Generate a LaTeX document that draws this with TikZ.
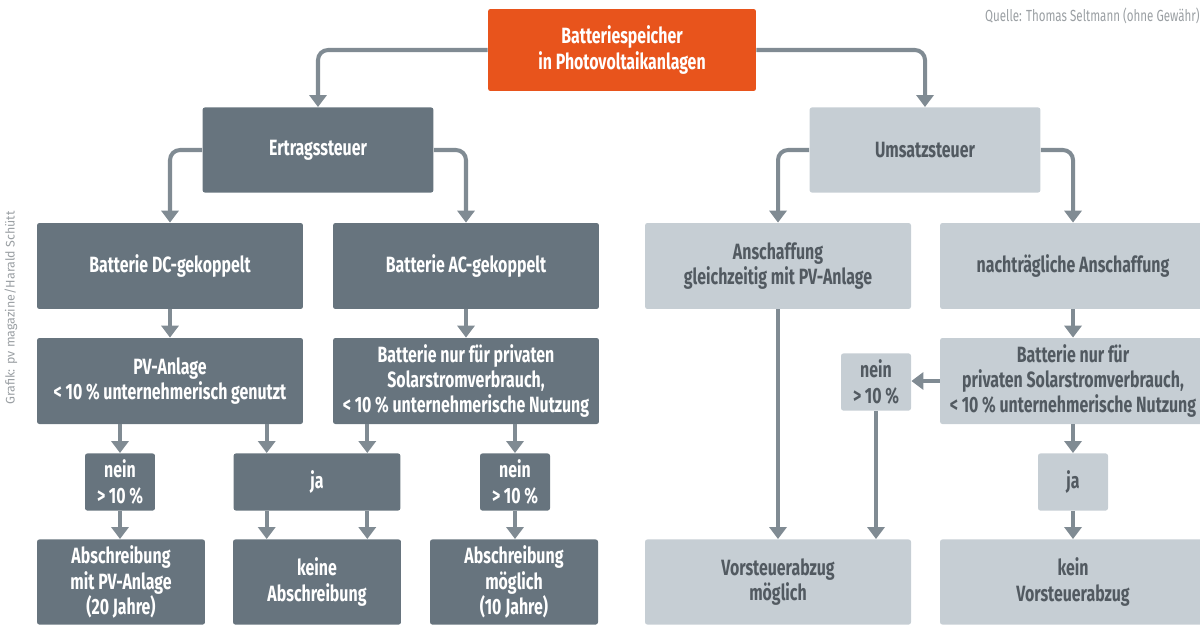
\documentclass[tikz,border=0pt]{standalone}
\usepackage{fontspec}
\setmainfont{Fira Sans}[FakeStretch=0.72]
\newfontfamily\creditfont{Fira Sans}
\usepackage{xcolor}
\usetikzlibrary{positioning, calc, arrows.meta}

\definecolor{topfill}{HTML}{E8541C}
\definecolor{darkfill}{HTML}{67747E}
\definecolor{lightfill}{HTML}{C6CED4}
\definecolor{linegray}{HTML}{808B93}
\definecolor{darktext}{HTML}{525A61}
\definecolor{credit}{HTML}{9A9FA3}

\begin{document}
\begin{tikzpicture}[x=0.0175cm, y=-0.0175cm,
    boxbase/.style={rounded corners=1.2pt, align=center, inner sep=0pt,
      font=\bfseries\fontsize{11}{12.6}\selectfont},
    topbox/.style={boxbase, fill=topfill, text=white},
    darkbox/.style={boxbase, fill=darkfill, text=white},
    lightbox/.style={boxbase, fill=lightfill, text=darktext},
    wide/.style={minimum width=4.655cm, minimum height=1.505cm},
    narrow/.style={minimum width=2.94cm, minimum height=1.49cm},
    small/.style={minimum width=1.225cm, minimum height=1.0cm},
    conn/.style={draw=linegray, line width=2pt,
      -{Triangle[width=0.3cm,length=0.21cm]}, color=linegray}]

    \useasboundingbox (0,0) rectangle (1200,627);

    % Top
    \node[topbox, minimum width=4.69cm, minimum height=1.435cm] (top) at (622,50)
        {Batteriespeicher\\in Photovoltaikanlagen};

    % Tax branches
    \node[darkbox, minimum width=4.04cm, minimum height=1.49cm] (ert) at (318,150) {Ertragssteuer};
    \node[lightbox, minimum width=4.04cm, minimum height=1.49cm] (ums) at (925,150) {Umsatzsteuer};

    % Second row
    \node[darkbox, wide] (dc) at (170,266) {Batterie DC-gekoppelt};
    \node[darkbox, wide] (ac) at (466,266) {Batterie AC-gekoppelt};
    \node[lightbox, wide] (ansch) at (778,266) {Anschaffung\\gleichzeitig mit PV-Anlage};
    \node[lightbox, wide] (nach) at (1073,266) {nachträgliche Anschaffung};

    % Third row
    \node[darkbox, wide] (pv) at (170,381) {PV-Anlage\\<\,10\,\% unternehmerisch genutzt};
    \node[darkbox, wide] (acq) at (466,381)
        {Batterie nur für privaten\\Solarstromverbrauch,\\<\,10\,\% unternehmerische Nutzung};
    \node[lightbox, wide] (batR) at (1073,381)
        {Batterie nur für\\privaten Solarstromverbrauch,\\<\,10\,\% unternehmerische Nutzung};
    \node[lightbox, small] (neinR) at (876,382) {nein\\>\,10\,\%};

    % Answers
    \node[darkbox, small] (nein1) at (120,482) {nein\\>\,10\,\%};
    \node[darkbox, minimum width=2.92cm, minimum height=1.0cm] (ja) at (317,482) {ja};
    \node[darkbox, small] (nein2) at (515,482) {nein\\>\,10\,\%};
    \node[lightbox, small] (jaR) at (1073,482) {ja};

    % Results
    \node[darkbox, narrow] (absch1) at (121,582) {Abschreibung\\mit PV-Anlage\\(20 Jahre)};
    \node[darkbox, narrow] (keine) at (317,582) {keine\\Abschreibung};
    \node[darkbox, narrow] (abm) at (514,582) {Abschreibung\\möglich\\(10 Jahre)};
    \node[lightbox, wide, minimum height=1.49cm] (vorst) at (778,582) {Vorsteuerabzug\\möglich};
    \node[lightbox, wide, minimum height=1.49cm] (kein) at (1073,582) {kein\\Vorsteuerabzug};

    % Credits
    \node[anchor=north east, text=credit, inner sep=0pt, font=\fontsize{8}{9}\selectfont]
        (quelle) at (1200,8) {Quelle: Thomas Seltmann (ohne Gewähr)};
    \node[rotate=90, text=credit, inner sep=0pt, font=\creditfont\fontsize{6.2}{7}\selectfont]
        (grafik) at (11,308) {Grafik: pv magazine/Harald Schütt};

    % Arrow positions on the ja boxes
    \coordinate (jaL) at ($(ja.north west)!0.2!(ja.north east)$);
    \coordinate (jaR2) at ($(ja.north west)!0.8!(ja.north east)$);

    % Connectors from the top
    \draw[conn, rounded corners=5pt] (top.west) -| (ert.north);
    \draw[conn, rounded corners=5pt] (top.east) -| (ums.north);
    \draw[conn, rounded corners=5pt] (ert.west) -| (dc.north);
    \draw[conn, rounded corners=5pt] (ert.east) -| (ac.north);
    \draw[conn, rounded corners=5pt] (ums.west) -| (ansch.north);
    \draw[conn, rounded corners=5pt] (ums.east) -| (nach.north);

    % Ertragssteuer side
    \draw[conn] (dc.south) -- (pv.north);
    \draw[conn] (ac.south) -- (acq.north);
    \draw[conn] (pv.south -| nein1) -- (nein1.north);
    \draw[conn] (pv.south -| jaL) -- (jaL);
    \draw[conn] (acq.south -| jaR2) -- (jaR2);
    \draw[conn] (acq.south -| nein2) -- (nein2.north);
    \draw[conn] (nein1.south) -- (nein1.south |- absch1.north);
    \draw[conn] (ja.south -| jaL) -- (keine.north -| jaL);
    \draw[conn] (ja.south -| jaR2) -- (keine.north -| jaR2);
    \draw[conn] (nein2.south) -- (nein2.south |- abm.north);

    % Umsatzsteuer side
    \draw[conn] (ansch.south) -- (vorst.north);
    \draw[conn] (nach.south) -- (batR.north);
    \draw[conn] (batR.west) -- (batR.west -| neinR.east);
    \draw[conn] (neinR.south) -- (neinR.south |- vorst.north);
    \draw[conn] (batR.south) -- (jaR.north);
    \draw[conn] (jaR.south) -- (kein.north);

\end{tikzpicture}
\end{document}
